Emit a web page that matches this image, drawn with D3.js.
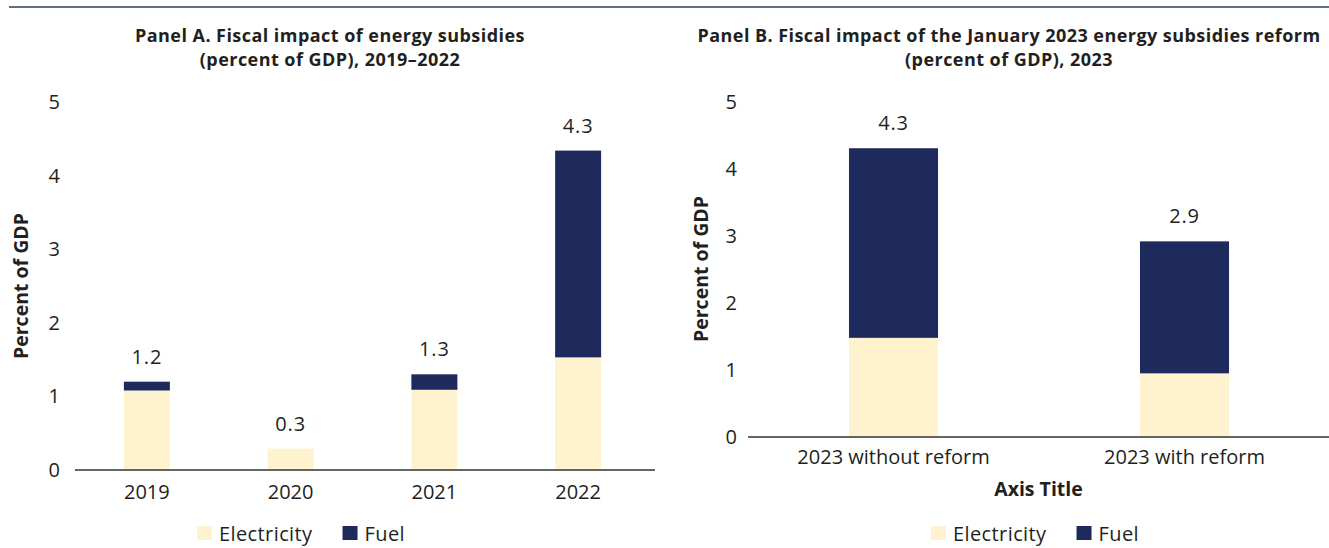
<!DOCTYPE html>
<html>
<head>
<meta charset="utf-8">
<script src="https://cdn.jsdelivr.net/npm/d3@7"></script>
<style>
  html, body { margin: 0; padding: 0; background: #ffffff; }
  svg { display: block; }
  text { font-family: "Open Sans", sans-serif; fill: #231f20; }
</style>
</head>
<body>
<svg id="chart" width="1329" height="548"></svg>
<script>
// Panel A: fiscal impact of energy subsidies, 2019–2022 (percent of GDP)
const yearsA = ["2019", "2020", "2021", "2022"];
const electricityA = [1.08, 0.29, 1.09, 1.53];
const fuelA = [0.12, 0.0, 0.21, 2.81];

// Panel B: fiscal impact of the January 2023 reform (percent of GDP)
const scenariosB = ["2023 without reform", "2023 with reform"];
const electricityB = [1.48, 0.95];
const fuelB = [2.83, 1.97];

const seriesNames = ["Electricity", "Fuel"];
const seriesColors = ["#fff3cf", "#1f2a5c"];
const yTicks = [0, 1, 2, 3, 4, 5];

const titleA = ["Panel A. Fiscal impact of energy subsidies", "(percent of GDP), 2019\u20132022"];
const titleB = ["Panel B. Fiscal impact of the January 2023 energy subsidies reform", "(percent of GDP), 2023"];
const yTitle = "Percent of GDP";
const xTitleB = "Axis Title";

const FONT = "'Open Sans', sans-serif";
const svg = d3.select("#chart");
const fmt = d3.format(".1f");

// rule across the top
svg.append("line")
  .attr("x1", 9).attr("x2", 1329).attr("y1", 7).attr("y2", 7)
  .attr("stroke", "#2c3e5a").attr("stroke-width", 1.5);

function drawPanel(cfg) {
  const g = svg.append("g");
  const rows = cfg.cats.map((c, i) => ({ cat: c, Electricity: cfg.elec[i], Fuel: cfg.fuel[i] }));
  const stacked = d3.stack().keys(seriesNames)(rows);

  const x = d3.scaleBand().domain(cfg.cats).range(cfg.xRange)
    .paddingInner(cfg.padIn).paddingOuter(cfg.padOut);
  const y = d3.scaleLinear().domain([0, 5]).range(cfg.yRange);

  // two-line title
  g.selectAll("text.title").data(cfg.title).join("text")
    .attr("class", "title")
    .attr("x", cfg.titleX).attr("y", (d, i) => 42 + i * 24)
    .attr("text-anchor", "middle")
    .style("font-weight", 700).style("font-size", "18px").style("letter-spacing", "0.45px")
    .text(d => d);

  // y axis labels
  const yAxis = g.append("g")
    .attr("transform", `translate(${cfg.xRange[0]},0)`)
    .call(d3.axisLeft(y).tickValues(yTicks).tickSize(0).tickPadding(cfg.yPad).tickFormat(d3.format("d")));
  yAxis.select(".domain").remove();
  yAxis.selectAll("text").style("font-size", "20px").style("font-family", FONT).attr("fill", "#231f20");

  // y axis title
  g.append("text")
    .attr("transform", `translate(${cfg.yTitleX},${cfg.yTitleY}) rotate(-90)`)
    .attr("text-anchor", "middle")
    .style("font-weight", 700).style("font-size", "19.5px")
    .text(yTitle);

  // stacked bars
  g.selectAll("g.series").data(stacked).join("g")
    .attr("class", "series")
    .attr("fill", (d, i) => seriesColors[i])
    .selectAll("rect").data(d => d).join("rect")
    .attr("x", d => x(d.data.cat))
    .attr("width", x.bandwidth())
    .attr("y", d => y(d[1]))
    .attr("height", d => y(d[0]) - y(d[1]));

  // total labels
  g.selectAll("text.total").data(rows).join("text")
    .attr("class", "total")
    .attr("x", d => x(d.cat) + x.bandwidth() / 2)
    .attr("y", d => y(d.Electricity + d.Fuel) - 18)
    .attr("text-anchor", "middle")
    .style("font-size", "20px").style("letter-spacing", "0.8px")
    .text(d => fmt(d.Electricity + d.Fuel));

  // x axis
  const xAxis = g.append("g")
    .attr("transform", `translate(0,${cfg.yRange[0]})`)
    .call(d3.axisBottom(x).tickSize(0).tickPadding(cfg.xPad));
  xAxis.select(".domain").attr("stroke", "#333").attr("stroke-width", 1.3)
    .attr("d", `M${cfg.xRange[0]},0H${cfg.axisEnd}`);
  xAxis.selectAll("text").style("font-size", "20px").style("font-family", FONT).attr("fill", "#231f20");

  if (cfg.xTitle) {
    g.append("text")
      .attr("x", (cfg.xRange[0] + cfg.axisEnd) / 2).attr("y", cfg.xTitleY)
      .attr("text-anchor", "middle")
      .style("font-weight", 700).style("font-size", "19.5px")
      .text(cfg.xTitle);
  }

  // legend, centred on cfg.legendX
  const leg = g.append("g");
  let cx = 0;
  seriesNames.forEach((name, i) => {
    const item = leg.append("g").attr("transform", `translate(${cx},0)`);
    item.append("rect").attr("x", 0).attr("y", cfg.legendY - 15).attr("width", 15).attr("height", 14)
      .attr("fill", seriesColors[i]);
    const t = item.append("text").attr("x", 22).attr("y", cfg.legendY)
      .style("font-size", "20px").style("letter-spacing", "0.4px").text(name);
    cx += 22 + t.node().getComputedTextLength() + 30;
  });
  const legW = cx - 30;
  leg.attr("transform", `translate(${cfg.legendX - legW / 2},0)`);
}

drawPanel({
  cats: yearsA, elec: electricityA, fuel: fuelA,
  xRange: [75, 650], axisEnd: 655, padIn: 0.68, padOut: 0.34,
  yRange: [470, 102], yPad: 15, xPad: 14.5,
  title: titleA, titleX: 330,
  yTitleX: 28, yTitleY: 286,
  legendX: 301, legendY: 541
});

drawPanel({
  cats: scenariosB, elec: electricityB, fuel: fuelB,
  xRange: [748, 1330], axisEnd: 1329, padIn: 0.694, padOut: 0.347,
  yRange: [437, 102], yPad: 11, xPad: 12.5,
  title: titleB, titleX: 1009,
  yTitleX: 708, yTitleY: 269,
  xTitle: xTitleB, xTitleY: 496,
  legendX: 1035, legendY: 541
});
</script>
</body>
</html>
